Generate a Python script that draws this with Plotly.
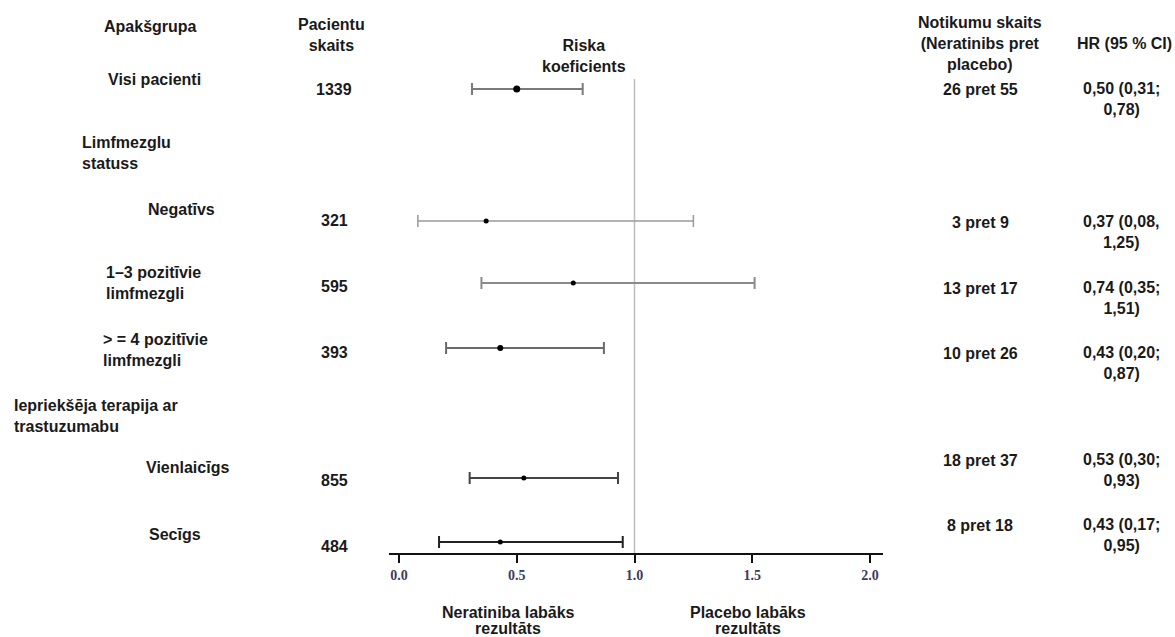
import plotly.graph_objects as go

# ---- data ----
subgroups = ["Visi pacienti", "Negatīvs", "1–3 pozitīvie<br>limfmezgli",
             "> = 4 pozitīvie<br>limfmezgli", "Vienlaicīgs", "Secīgs"]
patients = ["1339", "321", "595", "393", "855", "484"]
events = ["26 pret 55", "3 pret 9", "13 pret 17", "10 pret 26", "18 pret 37", "8 pret 18"]
hr = [0.50, 0.37, 0.74, 0.43, 0.53, 0.43]
ci_low = [0.31, 0.08, 0.35, 0.20, 0.30, 0.17]
ci_high = [0.78, 1.25, 1.51, 0.87, 0.93, 0.95]
hr_text = ["0,50 (0,31;<br>0,78)", "0,37 (0,08,<br>1,25)", "0,74 (0,35;<br>1,51)",
           "0,43 (0,20;<br>0,87)", "0,53 (0,30;<br>0,93)", "0,43 (0,17;<br>0,95)"]
group_headers = ["Limfmezglu<br>statuss", "Iepriekšēja terapija ar<br>trastuzumabu"]
favour_left = ["Neratiniba labāks", "rezultāts"]
favour_right = ["Placebo labāks", "rezultāts"]
tick_vals = [0.0, 0.5, 1.0, 1.5, 2.0]
tick_text = ["0.0", "0.5", "1.0", "1.5", "2.0"]

# ---- layout (pixel layout of the table rows, page coords) ----
W, H = 1175, 637
row_y = [89, 221, 283, 348, 478, 542]
bar_colors = ["#7a7a7a", "#9a9a9a", "#8a8a8a", "#6a6a6a", "#444444", "#222222"]
bar_widths = [2, 1.5, 2, 2, 2, 2]
marker_sizes = [7, 5, 5, 6, 5, 5]

def px(x):
    return x / W

def py(y):
    return 1 - y / H

AX_BOTTOM = 553
fig = go.Figure()

for i in range(len(hr)):
    fig.add_trace(go.Scatter(
        x=[hr[i]], y=[row_y[i]], mode="markers",
        marker=dict(color="black", size=marker_sizes[i], symbol="circle"),
        error_x=dict(type="data", symmetric=False,
                     array=[ci_high[i] - hr[i]], arrayminus=[hr[i] - ci_low[i]],
                     color=bar_colors[i], thickness=bar_widths[i], width=6),
        showlegend=False, hoverinfo="skip"))

fig.add_shape(type="line", xref="x", yref="y", x0=1.0, x1=1.0, y0=79, y1=AX_BOTTOM,
              line=dict(color="#bdbdbd", width=1.5), layer="below")

FONT = "Liberation Sans, Arial, sans-serif"
ann = []

def text(x, y, s, anchor="center", size=16, align="center"):
    ann.append(dict(x=px(x), y=py(y), xref="paper", yref="paper", text="<b>" + s + "</b>",
                    showarrow=False, xanchor=anchor, yanchor="middle", align=align,
                    font=dict(family=FONT, size=size, color="#1a1a1a")))

# headers
text(150, 27, "Apakšgrupa")
text(331, 35, "Pacientu<br>skaits")
text(584, 56, "Riska<br>koeficients")
text(980, 43, "Notikumu skaits<br>(Neratinibs pret<br>placebo)")
text(1124, 43, "HR (95 % CI)")

sub_x = [106, 146, 104, 101, 144, 147]
sub_y = [79, 210, 283, 350, 467, 534]
for i, s in enumerate(subgroups):
    text(sub_x[i], sub_y[i], s, anchor="left", align="left")
text(80, 153, group_headers[0], anchor="left", align="left")
text(12, 416, group_headers[1], anchor="left", align="left")

n_y = [89, 221, 286, 352, 481, 546]
for i, s in enumerate(patients):
    text(334, n_y[i], s)

ev_y = [89, 222, 288, 353, 460, 525]
for i in range(len(events)):
    text(980, ev_y[i], events[i])
    text(1121, ev_y[i] + 10, hr_text[i])

for j, line_y in enumerate([612, 628]):
    text(508, line_y, favour_left[j])
    text(748, line_y, favour_right[j])

x0_px, x2_px = 399, 870
unit = (x2_px - x0_px) / 2.0
xr = [(389 - x0_px) / unit, (883 - x0_px) / unit]

fig.update_layout(
    width=W, height=H, margin=dict(l=0, r=0, t=0, b=0),
    paper_bgcolor="white", plot_bgcolor="white",
    annotations=ann,
    xaxis=dict(domain=[px(389), px(883)], range=xr, tickvals=tick_vals, ticktext=tick_text,
               showgrid=False, zeroline=False, showline=True, linecolor="#111111", linewidth=1.5,
               ticks="outside", ticklen=8, tickwidth=1.5, tickcolor="#111111",
               tickfont=dict(family="Liberation Serif, Times New Roman, serif", size=14,
                             color="#3b3b5c", weight="bold"),
               anchor="y", fixedrange=True),
    yaxis=dict(domain=[py(AX_BOTTOM), 1], range=[AX_BOTTOM, 0], visible=False,
               showgrid=False, zeroline=False, fixedrange=True),
)

fig.write_html("out.html", config={"displayModeBar": False},
               post_script="document.body.style.margin='0';document.body.style.overflow='hidden';")
